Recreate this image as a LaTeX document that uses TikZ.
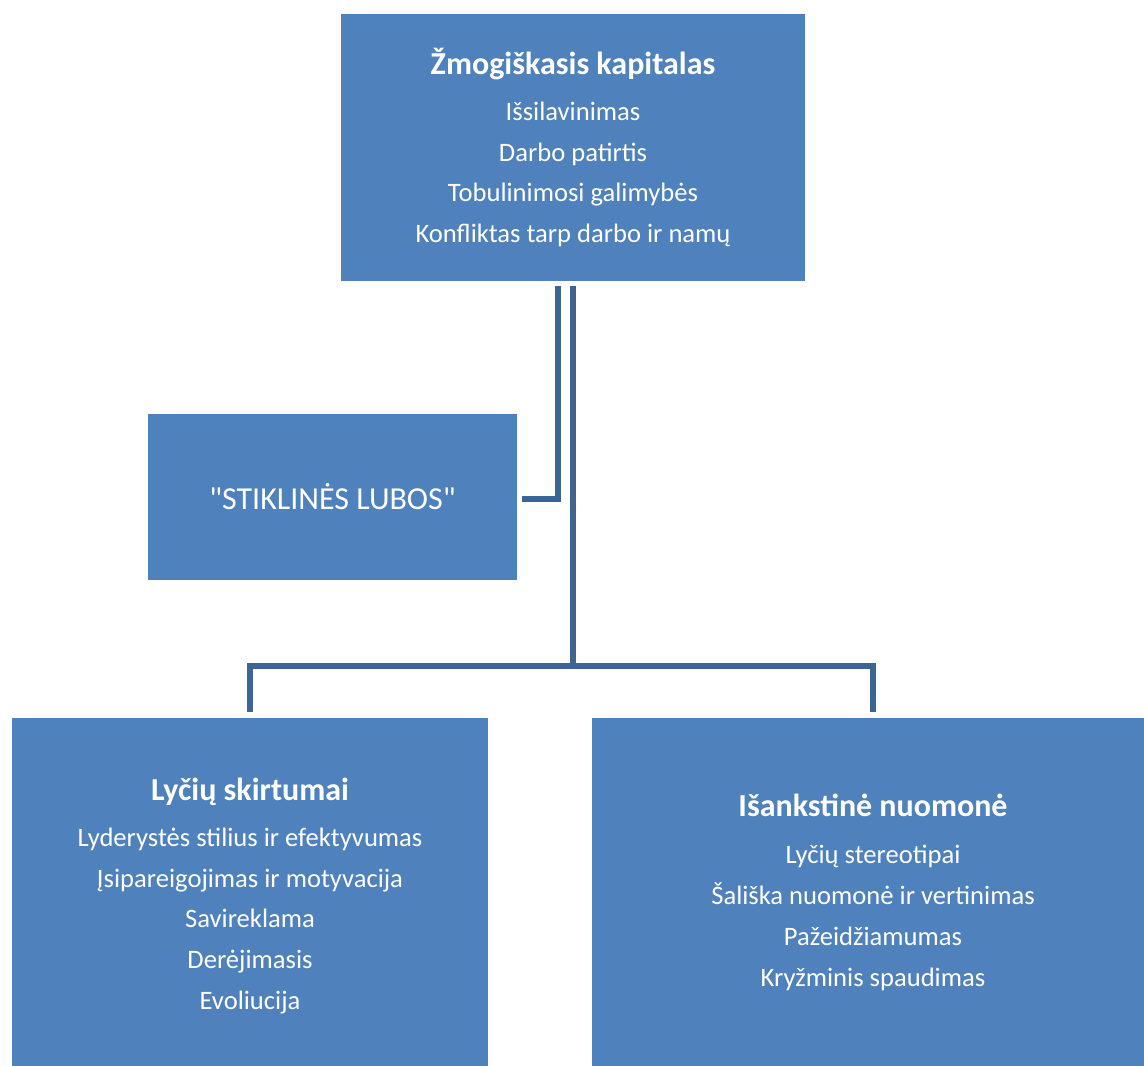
\documentclass[tikz,border=0pt]{standalone}
\usepackage{fontspec}
\setmainfont{Carlito}
\newfontfamily\straightquotes{Carlito}[Ligatures=TeXOff]
\usepackage{tikz}
\usetikzlibrary{positioning}
\definecolor{boxblue}{HTML}{4F81BD}
\definecolor{linkblue}{HTML}{3D6594}
\newcommand{\headtext}[1]{{\fontsize{32}{40}\selectfont\bfseries #1}}
\tikzset{
  panel/.style={
    fill=boxblue,
    draw=none,
    text=white,
    align=center,
    inner sep=0pt,
    font=\fontsize{26.6}{40.7}\selectfont
  },
  link/.style={
    line width=6pt,
    draw=linkblue
  }
}

\begin{document}
\begin{tikzpicture}[x=1pt,y=-1pt]
  \fill[white] (0,0) rectangle (1144,1066);
  \useasboundingbox (0,0) rectangle (1144,1066);

  \node[panel, minimum width=464pt, minimum height=267pt] (zmog) at (573,147.5)
    {\headtext{Žmogiškasis kapitalas}\\[5pt] Išsilavinimas\\ Darbo patirtis\\ Tobulinimosi galimybės\\ Konfliktas tarp darbo ir namų};
  \node[panel, minimum width=369pt, minimum height=166pt, font=\straightquotes\fontsize{32}{40}\selectfont] (lubos) at (332.5,497)
    {"STIKLINĖS LUBOS"};
  \node[panel, minimum width=476pt, minimum height=356pt] (lytis) at (250,896)
    {\headtext{Lyčių skirtumai}\\[5pt] Lyderystės stilius ir efektyvumas\\ Įsipareigojimas ir motyvacija\\ Savireklama\\ Derėjimasis\\ Evoliucija};
  \node[panel, minimum width=562pt, minimum height=348pt] (isank) at (873,892)
    {\headtext{Išankstinė nuomonė}\\[7pt] Lyčių stereotipai\\ Šališka nuomonė ir vertinimas\\ Pažeidžiamumas\\ Kryžminis spaudimas};

  \coordinate (split) at (573,666);
  \draw[link] ([xshift=-15pt,yshift=-5pt]zmog.south) |- ([xshift=5pt,yshift=-2pt]lubos.east);
  \draw[link] ([yshift=-5pt]zmog.south) -- (split);
  \draw[link] ([yshift=6pt]lytis.north) |- (split) -| ([yshift=6pt]isank.north);
\end{tikzpicture}
\end{document}
